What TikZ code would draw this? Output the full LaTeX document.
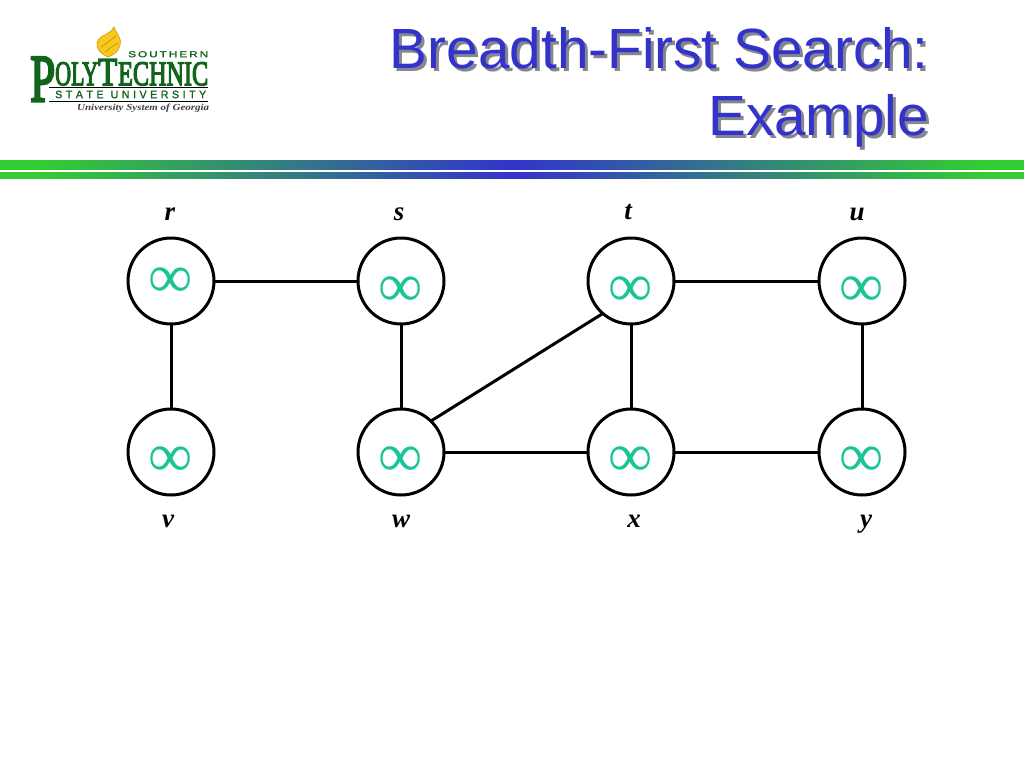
\documentclass[tikz,border=0pt]{standalone}
\usepackage{fontspec}
\usepackage{graphicx}
\setmainfont{Liberation Serif}
\newfontfamily\arialf{Liberation Sans}
\newfontfamily\logoserif[FakeBold=4]{Liberation Serif}
\newfontfamily\logosans[FakeBold=1.5]{Liberation Sans}
\definecolor{titleblue}{RGB}{51,51,204}
\definecolor{titleshadow}{RGB}{134,134,142}
\definecolor{bargreen}{RGB}{51,204,51}
\definecolor{infteal}{RGB}{25,196,150}
\definecolor{logogreen}{RGB}{16,100,28}
\definecolor{flame}{RGB}{247,200,30}
\definecolor{flamedark}{RGB}{205,150,20}
\pgfdeclarehorizontalshading{barshade}{100bp}{
  color(0bp)=(bargreen);
  color(27bp)=(bargreen);
  color(50bp)=(titleblue);
  color(73bp)=(bargreen);
  color(100bp)=(bargreen)}
\newcommand{\fitbox}[3]{\resizebox{#1pt}{#2pt}{#3}}
\tikzset{
  x=1pt,y=-1pt,
  vertex/.style={circle,draw=black,line width=3pt,minimum size=86pt,inner sep=0pt,outer sep=0pt,fill=white},
  edge/.style={draw=black,line width=3pt},
  inflabel/.style={text=infteal,inner sep=0pt,yshift=-3.5pt,font=\fontsize{62}{62}\selectfont},
  vname/.style={inner sep=0pt,anchor=base,font=\fontsize{27}{27}\selectfont\bfseries\itshape},
  titletext/.style={inner sep=0pt,anchor=base east,font=\arialf\fontsize{56.7}{56.7}\selectfont,text=titleblue},
  titleshade/.style={titletext,text=titleshadow},
  logotext/.style={inner sep=0pt,text=logogreen,anchor=north west},
  barrect/.style={shading=barshade,shading angle=0},
}
\begin{document}
\begin{tikzpicture}
\useasboundingbox (0,0) rectangle (1024,768);
\fill[white] (0,0) rectangle (1024,768);

% gradient bars
\path[barrect] (0,160) rectangle (1024,169);
\path[barrect] (0,172) rectangle (1024,178);

% title
\node[titleshade] (shadeA) at (932,71) {Breadth-First Search:};
\node[titleshade] (shadeB) at (932,138) {Example};
\node[titletext] (titleA) at (929,68) {Breadth-First Search:};
\node[titletext] (titleB) at (929,135) {Example};

% logo
\fill[flame,draw=flamedark,line width=.6pt] (114,27) .. controls (116,34) and (122,37) .. (120,45)
  .. controls (119,51) and (114,55) .. (108,57) .. controls (101,54) and (96,49) .. (97,43)
  .. controls (98,37) and (104,36) .. (108,33) .. controls (110,32) and (113,30) .. (114,27) -- cycle;
\draw[flamedark,line width=.8pt] (101,47) .. controls (105,45) and (112,39) .. (116,36)
  (105,52) .. controls (109,49) and (114,45) .. (118,43);
\node[logotext] (lgS) at (128,51) {\fitbox{80}{6}{\logosans S\,O\,U\,T\,H\,E\,R\,N}};
\node[logotext] (lgP) at (30,57) {\fitbox{25}{44}{\logoserif P}};
\node[logotext] (lgO) at (55,62) {\fitbox{43}{23}{\logoserif OLY}};
\node[logotext] (lgT) at (98,59) {\fitbox{19}{26}{\logoserif T}};
\node[logotext] (lgE) at (118,62) {\fitbox{90}{23}{\logoserif ECHNIC}};
\draw[black,line width=.8pt] (49,87) -- (208,87) (49,101) -- (208,101);
\node[logotext] (lgU) at (55,90.5) {\fitbox{151}{7.5}{\logosans S\,\,T\,\,A\,\,T\,\,E\,\,\,\,U\,\,N\,\,I\,\,V\,\,E\,\,R\,\,S\,\,I\,\,T\,\,Y}};
\node[inner sep=0pt,anchor=north west,text=black!75] (lgG) at (77,103.5) {\fitbox{132}{6.5}{\bfseries\itshape University System of Georgia}};

% vertices
\node[vertex] (r) at (171,281) {};
\node[vertex] (s) at (401,281) {};
\node[vertex] (t) at (631,281) {};
\node[vertex] (u) at (862,281) {};
\node[vertex] (v) at (171,452) {};
\node[vertex] (w) at (401,452) {};
\node[vertex] (x) at (631,452) {};
\node[vertex] (y) at (862,452) {};

% edges
\draw[edge] (r) -- (s);
\draw[edge] (t) -- (u);
\draw[edge] (r) -- (v);
\draw[edge] (s) -- (w);
\draw[edge] (t) -- (x);
\draw[edge] (u) -- (y);
\draw[edge] (w) -- (x);
\draw[edge] (x) -- (y);
\draw[edge] (w.46) -- (t.229);

% distances
\node[inflabel] (dr) at (171,279) {∞};
\node[inflabel] (ds) at (401,288) {∞};
\node[inflabel] (dt) at (631,288) {∞};
\node[inflabel] (du) at (862,288) {∞};
\node[inflabel] (dv) at (171,458) {∞};
\node[inflabel] (dw) at (401,458) {∞};
\node[inflabel] (dx) at (631,458) {∞};
\node[inflabel] (dy) at (862,458) {∞};

% names
\node[vname] (nr) at (170,220) {r};
\node[vname] (ns) at (399,220) {s};
\node[vname] (nt) at (628,219.5) {t};
\node[vname] (nu) at (857,220) {u};
\node[vname] (nv) at (168,527) {v};
\node[vname] (nw) at (401,527) {w};
\node[vname] (nx) at (634,527) {x};
\node[vname] (ny) at (866,527) {y};
\end{tikzpicture}
\end{document}
